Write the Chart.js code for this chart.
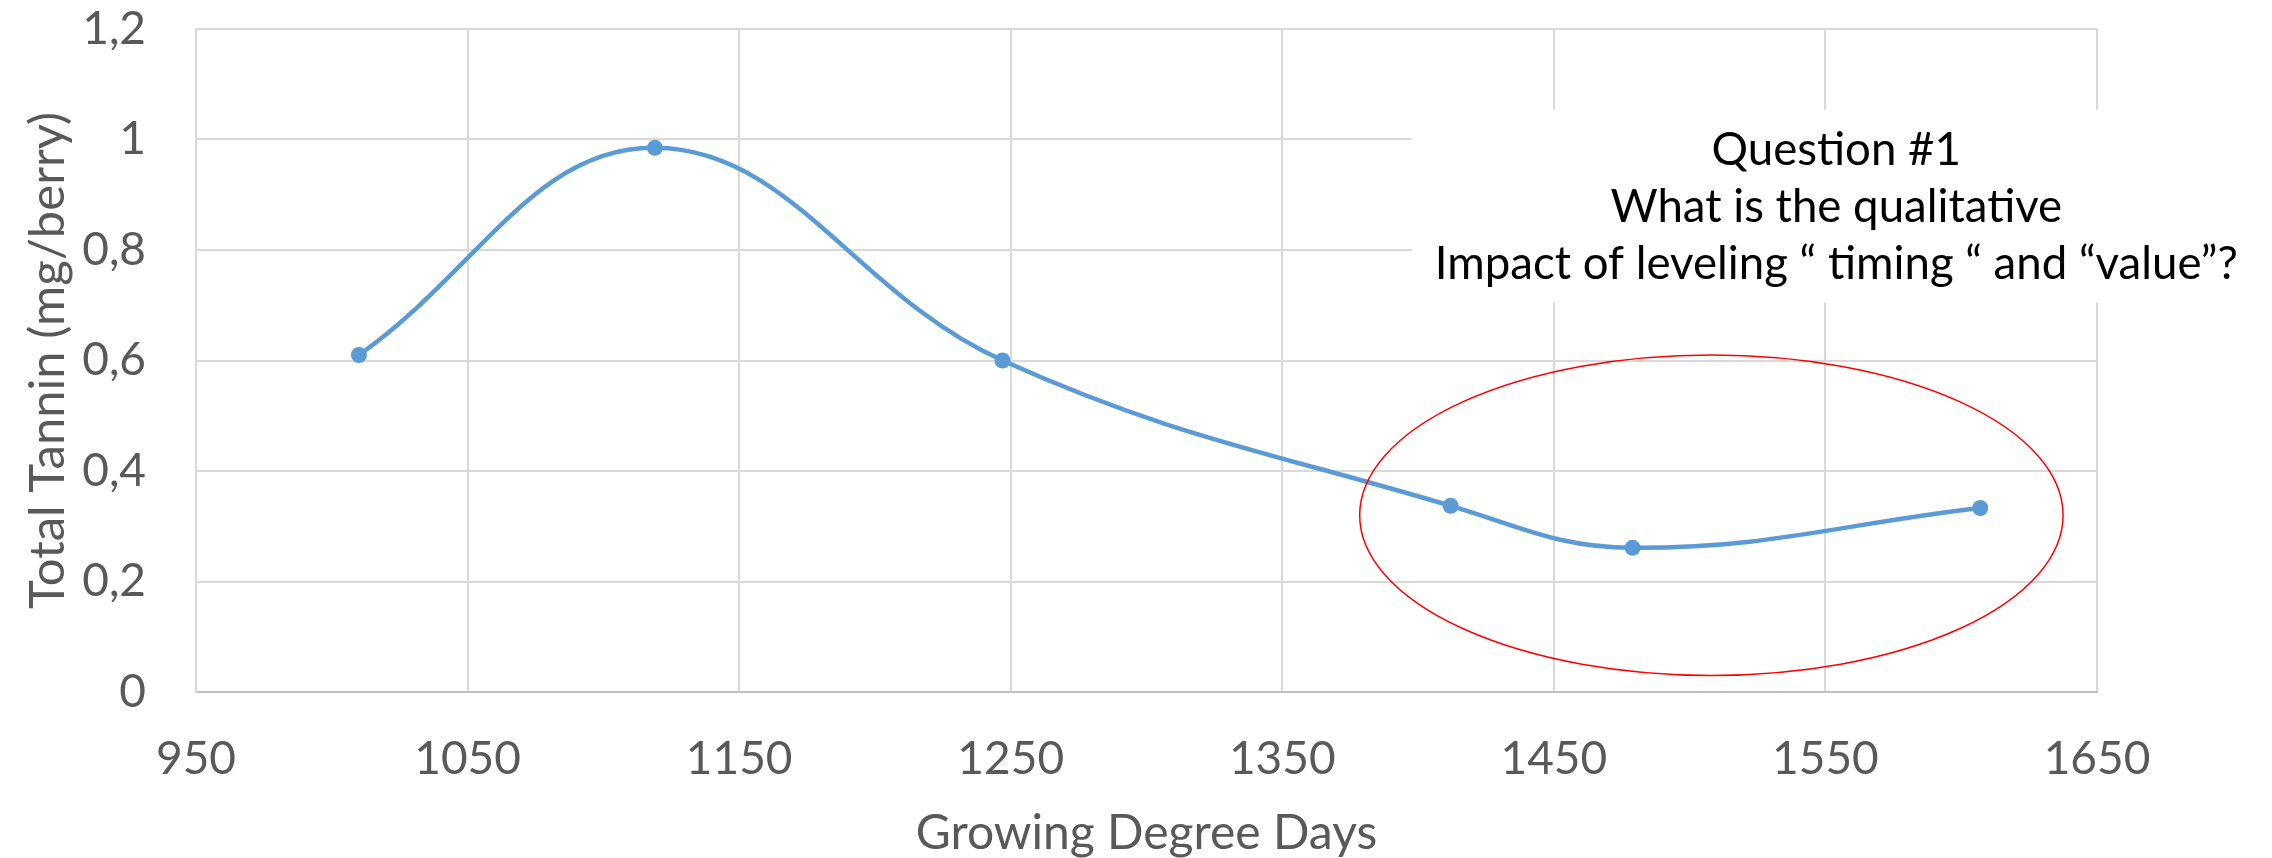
<!DOCTYPE html>
<html>
<head>
<meta charset="utf-8">
<script src="https://cdn.jsdelivr.net/npm/chart.js@4"></script>
<style>
  html, body { margin: 0; padding: 0; background: #fff; }
  #wrap { width: 2272px; height: 858px; }
</style>
</head>
<body>
<div id="wrap"><canvas id="tanninChart" width="2272" height="858"></canvas></div>
<script>
// growing degree days vs total tannin
const gddValues = [1010, 1119, 1247, 1412, 1479, 1607];
const tanninValues = [0.61, 0.985, 0.60, 0.337, 0.261, 0.333];

const xTickValues = [950, 1050, 1150, 1250, 1350, 1450, 1550, 1650];
const xTickLabels = ['950', '1050', '1150', '1250', '1350', '1450', '1550', '1650'];
const yTickValues = [0, 0.2, 0.4, 0.6, 0.8, 1, 1.2];
const yTickLabels = ['0', '0,2', '0,4', '0,6', '0,8', '1', '1,2'];

const xTitle = 'Growing Degree Days';
const yTitle = 'Total Tannin (mg/berry)';

const noteLines = ['Question #1', 'What is the qualitative', 'Impact of leveling \u201c timing \u201c and \u201cvalue\u201d?'];

const greyText = '#595959';
const gridColor = '#d9d9d9';

// red ellipse + white note box, placed in data units
const annotationPlugin = {
  id: 'noteAndEllipse',
  afterDatasetsDraw(chart) {
    const ctx = chart.ctx;
    const xs = chart.scales.x, ys = chart.scales.y;

    // ellipse around the last three points
    const cx = xs.getPixelForValue(1508), cy = ys.getPixelForValue(0.32);
    const rx = xs.getPixelForValue(1508 + 129.5) - cx;
    const ry = cy - ys.getPixelForValue(0.32 + 0.29);
    ctx.save();
    ctx.strokeStyle = '#ff0000';
    ctx.lineWidth = 1.5;
    ctx.beginPath();
    ctx.ellipse(cx, cy, rx, ry, 0, 0, Math.PI * 2);
    ctx.stroke();
    ctx.restore();

    // white note box hides gridlines
    const bx1 = xs.getPixelForValue(1397.7), bx2 = xs.getPixelForValue(1703);
    const by1 = ys.getPixelForValue(1.054), by2 = ys.getPixelForValue(0.705);
    ctx.save();
    ctx.fillStyle = '#ffffff';
    ctx.fillRect(bx1, by1, bx2 - bx1, by2 - by1);

    ctx.font = '46px Lato';
    ctx.fillStyle = '#000000';
    ctx.textAlign = 'center';
    ctx.textBaseline = 'middle';
    const squeeze = 803 / ctx.measureText(noteLines[2]).width;
    const tx = xs.getPixelForValue(1554);
    const lineYs = [ys.getPixelForValue(0.98), ys.getPixelForValue(0.877), ys.getPixelForValue(0.775)];
    noteLines.forEach((line, i) => {
      ctx.save();
      ctx.translate(tx, lineYs[i]);
      ctx.scale(squeeze, 1);
      ctx.fillText(line, 0, 0);
      ctx.restore();
    });
    ctx.restore();
  }
};

const ctx = document.getElementById('tanninChart').getContext('2d');
new Chart(ctx, {
  type: 'line',
  data: {
    datasets: [{
      data: gddValues.map((g, i) => ({ x: g, y: tanninValues[i] })),
      borderColor: '#5b9bd5',
      backgroundColor: '#5b9bd5',
      borderWidth: 4.5,
      pointRadius: 8,
      pointBorderWidth: 0,
      tension: 0.4,
      cubicInterpolationMode: 'default',
      fill: false
    }]
  },
  options: {
    responsive: false,
    animation: false,
    layout: { padding: { left: 0, right: 175, top: 29, bottom: 0 } },
    plugins: {
      legend: { display: false },
      tooltip: { enabled: false }
    },
    scales: {
      x: {
        type: 'linear',
        min: 950,
        max: 1650,
        afterBuildTicks: s => { s.ticks = xTickValues.map(v => ({ value: v })); },
        afterFit: s => { s.height = 166; s.paddingLeft = 0; s.paddingRight = 0; },
        grid: { color: gridColor, lineWidth: 2, drawTicks: false },
        border: { color: '#bfbfbf', width: 2 },
        ticks: {
          color: greyText,
          font: { family: 'Lato', size: 46 },
          padding: 40,
          maxRotation: 0,
          callback: (v, i) => xTickLabels[i]
        },
        title: {
          display: true,
          text: xTitle,
          color: greyText,
          font: { family: 'Lato', size: 48, lineHeight: 1 },
          padding: { top: 0, bottom: 0 }
        }
      },
      y: {
        type: 'linear',
        min: 0,
        max: 1.2,
        afterBuildTicks: s => { s.ticks = yTickValues.map(v => ({ value: v })); },
        afterFit: s => { s.width = 196; s.paddingTop = 0; s.paddingBottom = 0; },
        grid: { color: gridColor, lineWidth: 2, drawTicks: false },
        border: { color: gridColor, width: 2 },
        ticks: {
          color: greyText,
          font: { family: 'Lato', size: 46 },
          padding: 50,
          callback: (v, i) => yTickLabels[i]
        },
        title: {
          display: true,
          text: yTitle,
          color: greyText,
          font: { family: 'Lato', size: 49, lineHeight: 1 },
          padding: { top: 24, bottom: 0 }
        }
      }
    }
  },
  plugins: [annotationPlugin]
});
</script>
</body>
</html>
